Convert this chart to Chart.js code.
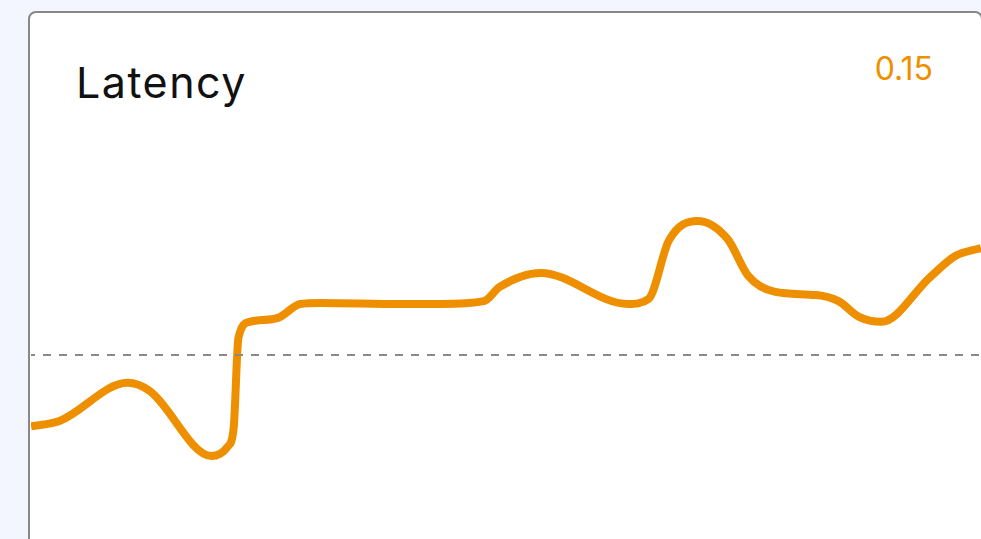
<!DOCTYPE html>
<html>
<head>
<meta charset="utf-8">
<script src="https://cdn.jsdelivr.net/npm/chart.js@4/dist/chart.umd.min.js"></script>
<style>
  html, body { margin: 0; padding: 0; width: 981px; height: 539px; overflow: hidden; background: #f3f6fe; }
  .card { position: absolute; left: 28px; top: 11px; width: 951px; height: 600px; border: 2px solid #888; border-radius: 8px; background: #fff; }
  .title { position: absolute; left: 76px; top: 61px; font: 400 43px Inter, sans-serif; letter-spacing: 1.5px; line-height: 1; color: #111; }
  .value { position: absolute; right: 48px; top: 53px; font: 400 32px Inter, sans-serif; line-height: 1; color: #ee8f00; }
  .plot { position: absolute; left: 31px; top: 141px; width: 950px; height: 428px; }
</style>
</head>
<body>
<div class="card"></div>
<div class="title">Latency</div>
<div class="value" id="value"></div>
<div class="plot"><canvas id="latencyChart"></canvas></div>
<script>
// seconds since start of window
const times = [0, 18, 61, 75, 114, 124, 128, 131, 138, 156, 170, 183, 233, 259, 286,
  296, 322, 377, 390, 403, 421, 440, 453, 470, 496, 510, 523, 537, 568, 584, 600];
// latency (s)
const latency = [0.100, 0.1015, 0.1122, 0.1099, 0.0917, 0.0942, 0.0995, 0.1248,
  0.1293, 0.1304, 0.1343, 0.1346, 0.1343, 0.1343, 0.1351, 0.1391, 0.1430, 0.1343, 0.1357,
  0.1522, 0.1576, 0.1525, 0.1422, 0.1377, 0.1368, 0.1351, 0.1307, 0.1293, 0.1419, 0.1478, 0.1500];
const threshold = 0.12;
const yRange = [0.06, 0.18];

document.getElementById("value").textContent = latency[latency.length - 1].toFixed(2);

const ctx = document.getElementById("latencyChart");

new Chart(ctx, {
  type: "line",
  data: {
    datasets: [
      {
        label: "Threshold",
        data: [
          { x: times[0], y: threshold },
          { x: times[times.length - 1], y: threshold },
        ],
        borderColor: "#888",
        borderWidth: 2,
        borderDash: [8, 8],
        borderDashOffset: 4,
        pointRadius: 0,
        order: 0,
      },
      {
        label: "Latency",
        data: times.map((t, i) => ({ x: t, y: latency[i] })),
        borderColor: "#ee8f00",
        borderWidth: 8,
        borderJoinStyle: "round",
        cubicInterpolationMode: "monotone",
        pointRadius: 0,
        order: 1,
      },
    ],
  },
  options: {
    responsive: true,
    maintainAspectRatio: false,
    animation: false,
    layout: { padding: 0 },
    plugins: {
      legend: { display: false },
      tooltip: { enabled: false },
    },
    scales: {
      x: { type: "linear", min: times[0], max: times[times.length - 1], display: false },
      y: { min: yRange[0], max: yRange[1], display: false },
    },
  },
});
</script>
</body>
</html>
